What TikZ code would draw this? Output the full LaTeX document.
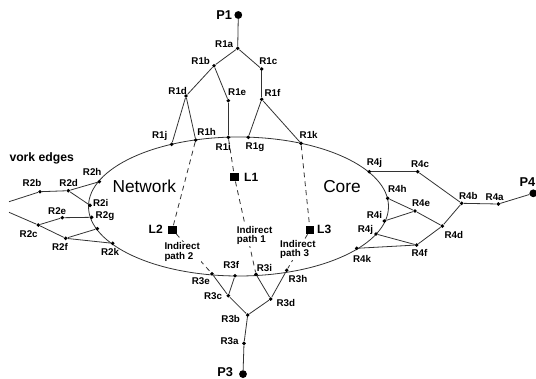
\documentclass[tikz,border=0pt]{standalone}
\usepackage{fontspec}
\setmainfont{Liberation Sans}
\begin{document}
\begin{tikzpicture}[x=1pt,y=-1pt,
  dot/.style={circle,fill=black,inner sep=0pt,minimum size=3.9pt},
  bigdot/.style={circle,fill=black,inner sep=0pt,minimum size=7.8pt},
  sq/.style={rectangle,fill=black,inner sep=0pt,minimum width=8.5pt,minimum height=8pt},
  lbl/.style={font=\bfseries\fontsize{9.8}{10}\selectfont,inner sep=0pt},
  plbl/.style={font=\bfseries\fontsize{12.8}{13}\selectfont,inner sep=0pt},
  llbl/.style={font=\bfseries\fontsize{12}{12}\selectfont,inner sep=0pt},
  big/.style={font=\fontsize{17.3}{18}\selectfont,inner sep=0pt},
  ind/.style={font=\bfseries\fontsize{9.8}{9.6}\selectfont,align=left,fill=white,inner sep=1pt,anchor=west},
  edge/.style={draw=black!80,line width=0.8pt},
  link/.style={draw=black!80,line width=0.8pt,dash pattern=on 5pt off 4pt}
]
\useasboundingbox (0,0) rectangle (536,378);

% core network boundary
\draw[edge] (238.5,206.5) ellipse [x radius=150pt, y radius=69.5pt];

% ---------- region 1 (top) ----------
\node[bigdot] (P1) at (238.3,15) {};
\node[dot] (R1a) at (237.7,48.3) {};
\node[dot] (R1b) at (214,65.7) {};
\node[dot] (R1c) at (261.7,69) {};
\node[dot] (R1d) at (186,96) {};
\node[dot] (R1e) at (228.3,100.7) {};
\node[dot] (R1f) at (261.7,99.3) {};
\node[dot] (R1j) at (171.7,144.3) {};
\node[dot] (R1h) at (195.7,140) {};
\node[dot] (R1i) at (228.3,137.3) {};
\node[dot] (R1g) at (248.3,137.3) {};
\node[dot] (R1k) at (301,143.3) {};

\draw[edge] (P1) -- (R1a);
\draw[edge] (R1a) -- (R1b);
\draw[edge] (R1a) -- (R1c);
\draw[edge] (R1b) -- (R1d);
\draw[edge] (R1b) -- (R1e);
\draw[edge] (R1c) -- (R1f);
\draw[edge] (R1d) -- (R1j);
\draw[edge] (R1d) -- (R1h);
\draw[edge] (R1e) -- (R1i);
\draw[edge] (R1f) -- (R1g);
\draw[edge] (R1f) -- (R1k);

\node[plbl] (tP1) at (224.2,15.5) {P1};
\node[lbl] (tR1a) at (224.2,43.7) {R1a};
\node[lbl] (tR1b) at (200.7,60.7) {R1b};
\node[lbl] (tR1c) at (268.3,61.3) {R1c};
\node[lbl] (tR1d) at (177.7,90.7) {R1d};
\node[lbl] (tR1e) at (237.2,91.7) {R1e};
\node[lbl] (tR1f) at (272.5,92.7) {R1f};
\node[lbl] (tR1j) at (159.7,136.3) {R1j};
\node[lbl] (tR1h) at (206.7,132) {R1h};
\node[lbl] (tR1i) at (223.3,146.7) {R1i};
\node[lbl] (tR1g) at (255,147) {R1g};
\node[lbl] (tR1k) at (308.7,135) {R1k};

% ---------- region 2 (left) ----------
\coordinate (W1) at (9,201.7);
\coordinate (W2) at (9,212.3);
\node[dot] (R2b) at (40,191.7) {};
\node[dot] (R2d) at (68.3,190.7) {};
\node[dot] (R2h) at (99.3,181.7) {};
\node[dot] (R2i) at (90,205.3) {};
\node[dot] (R2e) at (62.3,217.7) {};
\node[dot] (R2g) at (91.7,217.3) {};
\node[dot] (R2x) at (97.3,228.7) {};
\node[dot] (R2c) at (38.3,225) {};
\node[dot] (R2f) at (65.7,238.3) {};
\node[dot] (R2k) at (112.7,243.3) {};

\draw[edge] (W1) -- (R2b);
\draw[edge] (R2b) -- (R2d);
\draw[edge] (R2d) -- (R2h);
\draw[edge] (R2d) -- (R2i);
\draw[edge] (W2) -- (R2c);
\draw[edge] (R2c) -- (R2e);
\draw[edge] (R2e) -- (R2g);
\draw[edge] (R2c) -- (R2f);
\draw[edge] (R2f) -- (R2x);
\draw[edge] (R2f) -- (R2k);

\node[font=\bfseries\fontsize{12.2}{13}\selectfont,inner sep=0pt,anchor=west] (tEdges) at (9.3,158.3) {vork edges};
\node[lbl] (tR2h) at (92.2,171.7) {R2h};
\node[lbl] (tR2b) at (32,182.7) {R2b};
\node[lbl] (tR2d) at (68.7,182.7) {R2d};
\node[lbl] (tR2i) at (100.7,202.7) {R2i};
\node[lbl] (tR2e) at (57.2,210.7) {R2e};
\node[lbl] (tR2g) at (105,215.8) {R2g};
\node[lbl] (tR2c) at (28.7,234) {R2c};
\node[lbl] (tR2f) at (60,247) {R2f};
\node[lbl] (tR2k) at (110,252.2) {R2k};

% ---------- region 4 (right) ----------
\node[dot] (R4j) at (369.3,171.7) {};
\node[dot] (R4c) at (417.7,171.7) {};
\node[dot] (R4h) at (387.7,198.3) {};
\node[dot] (R4e) at (415,211) {};
\node[dot] (R4b) at (461.7,203.3) {};
\node[dot] (R4a) at (498.3,204) {};
\node[bigdot] (P4) at (533.3,193.3) {};
\node[dot] (R4i) at (384.3,221) {};
\node[dot] (R4jj) at (376,234) {};
\node[dot] (R4d) at (442.3,226) {};
\node[dot] (R4f) at (416.7,245) {};
\node[dot] (R4k) at (356.7,248.3) {};

\draw[edge] (R4j) -- (R4c);
\draw[edge] (R4c) -- (R4b);
\draw[edge] (R4b) -- (R4a);
\draw[edge] (R4a) -- (P4);
\draw[edge] (R4b) -- (R4d);
\draw[edge] (R4h) -- (R4e);
\draw[edge] (R4e) -- (R4d);
\draw[edge] (R4i) -- (R4e);
\draw[edge] (R4jj) -- (R4f);
\draw[edge] (R4k) -- (R4f);
\draw[edge] (R4f) -- (R4d);

\node[plbl] (tP4) at (527.5,181.7) {P4};
\node[lbl] (tR4j) at (374.5,163) {R4j};
\node[lbl] (tR4c) at (420,164.5) {R4c};
\node[lbl] (tR4h) at (397.3,189.2) {R4h};
\node[lbl] (tR4e) at (421,203) {R4e};
\node[lbl] (tR4b) at (468.3,196) {R4b};
\node[lbl] (tR4a) at (494.7,196.7) {R4a};
\node[lbl] (tR4i) at (374.5,214.7) {R4i};
\node[lbl] (tR4jj) at (365.5,230) {R4j};
\node[lbl] (tR4d) at (453.8,235.3) {R4d};
\node[lbl] (tR4f) at (419.5,252.5) {R4f};
\node[lbl] (tR4k) at (362,258.8) {R4k};

% ---------- region 3 (bottom) ----------
\node[dot] (R3e) at (212,273.7) {};
\node[dot] (R3f) at (235,275.7) {};
\node[dot] (R3i) at (256,274.3) {};
\node[dot] (R3h) at (286.7,270.3) {};
\node[dot] (R3c) at (228.3,295.7) {};
\node[dot] (R3d) at (270.7,299) {};
\node[dot] (R3b) at (247.7,315) {};
\node[dot] (R3a) at (244,343.3) {};
\node[bigdot] (P3) at (243,374.1) {};

\draw[edge] (R3e) -- (R3c);
\draw[edge] (R3f) -- (R3c);
\draw[edge] (R3i) -- (R3d);
\draw[edge] (R3h) -- (R3d);
\draw[edge] (R3c) -- (R3b);
\draw[edge] (R3d) -- (R3b);
\draw[edge] (R3b) -- (R3a);
\draw[edge] (R3a) -- (P3);

\node[lbl] (tR3f) at (231.2,264.7) {R3f};
\node[lbl] (tR3i) at (264.5,268) {R3i};
\node[lbl] (tR3e) at (200.8,281.3) {R3e};
\node[lbl] (tR3h) at (298,278.7) {R3h};
\node[lbl] (tR3c) at (213,296.2) {R3c};
\node[lbl] (tR3d) at (285.8,302.8) {R3d};
\node[lbl] (tR3b) at (230.7,318.8) {R3b};
\node[lbl] (tR3a) at (229.5,341.2) {R3a};
\node[plbl] (tP3) at (225.2,371.7) {P3};

% ---------- indirect links through the core ----------
\node[sq] (L1) at (234.5,177.3) {};
\node[sq] (L2) at (172.3,229.5) {};
\node[sq] (L3) at (310,230) {};

\draw[link] (R1h) -- (L2) -- (R3e);
\draw[link] (R1i) -- (L1) -- (R3i);
\draw[link] (R1k) -- (L3) -- (R3h);

\node[llbl] (tL1) at (251.2,177.2) {L1};
\node[llbl] (tL2) at (155.7,229) {L2};
\node[llbl] (tL3) at (324.2,229.8) {L3};

\node[ind] (ip1) at (235.7,235.3) {Indirect\\path 1};
\node[ind] (ip2) at (163.3,252) {Indirect\\path 2};
\node[ind] (ip3) at (279,249.3) {Indirect\\path 3};

\node[big] (tNet) at (144.3,186) {Network};
\node[big] (tCore) at (342,187) {Core};
\end{tikzpicture}
\end{document}
